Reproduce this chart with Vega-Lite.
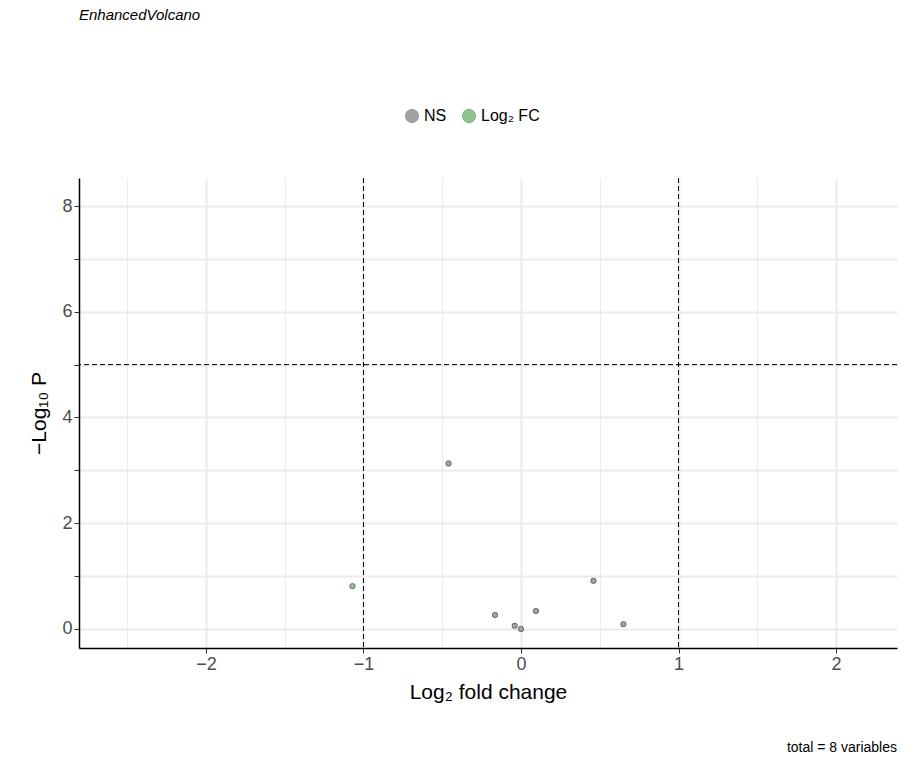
{
"$schema":"https://vega.github.io/schema/vega-lite/v6.json",
"width":818,"height":470,
"autosize":{"type":"none"},
"padding":{"left":79,"top":178,"right":17,"bottom":127},
"title":{"text":"Volcano plot","subtitle":"EnhancedVolcano","anchor":"start","frame":"group","offset":85,"font":"Liberation Sans","fontSize":18,"fontWeight":"bold","color":"black","subtitleFont":"Liberation Sans","subtitleFontSize":15,"subtitleFontStyle":"italic","subtitleColor":"black","subtitlePadding":10},
"config":{"view":{"stroke":null},"font":"Liberation Sans",
"axis":{"domainColor":"black","domainWidth":1.5,"tickColor":"#333","labelFont":"Liberation Sans","labelFontSize":18,"labelColor":"#4d4d4d","titleFont":"Liberation Sans","titleFontSize":21,"titleFontWeight":"normal","titleColor":"black","gridColor":"#ebebeb",
"gridWidth":{"condition":{"test":"datum.value % 1 === 0","value":2},"value":1},
"tickSize":{"condition":{"test":"datum.value % 1 === 0","value":5},"value":0}}},
"datasets":{"pts":[
{"x":-0.46,"y":3.13,"g":"NS"},
{"x":-1.07,"y":0.81,"g":"Log₂ FC"},
{"x":-0.165,"y":0.265,"g":"NS"},
{"x":-0.04,"y":0.06,"g":"NS"},
{"x":0.0,"y":0.0,"g":"NS"},
{"x":0.095,"y":0.34,"g":"NS"},
{"x":0.46,"y":0.91,"g":"NS"},
{"x":0.65,"y":0.09,"g":"NS"}],
"vl":[{"v":-1},{"v":1}],"hl":[{"v":5}]},
"layer":[
{"data":{"name":"pts"},"mark":{"type":"point","filled":true,"size":30,"stroke":"black","strokeWidth":0.5,"opacity":0.9},
"encoding":{
"x":{"field":"x","type":"quantitative","scale":{"domain":[-2.806,2.387],"nice":false,"zero":false},
"axis":{"title":"Log₂ fold change","values":[-2.5,-2,-1.5,-1,-0.5,0,0.5,1,1.5,2],"labelExpr":"datum.value % 1 === 0 ? format(datum.value, 'd') : ''","titlePadding":8}},
"y":{"field":"y","type":"quantitative","scale":{"domain":[-0.36,8.53],"nice":false,"zero":false},
"axis":{"title":"−Log₁₀ P","values":[0,1,2,3,4,5,6,7,8],"labelExpr":"datum.value % 2 === 0 ? datum.label : ''","titlePadding":12}},
"fill":{"field":"g","type":"nominal","scale":{"domain":["NS","Log₂ FC"],"range":["#999999","#7fbf7f"]},
"legend":{"title":null,"orient":"none","legendX":325,"legendY":-70,"direction":"horizontal","symbolSize":180,"symbolStrokeColor":"#666","symbolStrokeWidth":0.5,"labelFontSize":16,"labelColor":"black","columnPadding":14}}}},
{"data":{"name":"vl"},"mark":{"type":"rule","strokeDash":[5,3],"color":"black","strokeWidth":1},"encoding":{"x":{"field":"v","type":"quantitative"}}},
{"data":{"name":"hl"},"mark":{"type":"rule","strokeDash":[5,3],"color":"black","strokeWidth":1},"encoding":{"y":{"field":"v","type":"quantitative"}}},
{"data":{"values":[{"t":"total = 8 variables"}]},"mark":{"type":"text","align":"right","fontSize":14,"color":"black","clip":false},
"encoding":{"text":{"field":"t"},"x":{"datum":2.387},"y":{"datum":-2.25}}}
]}
